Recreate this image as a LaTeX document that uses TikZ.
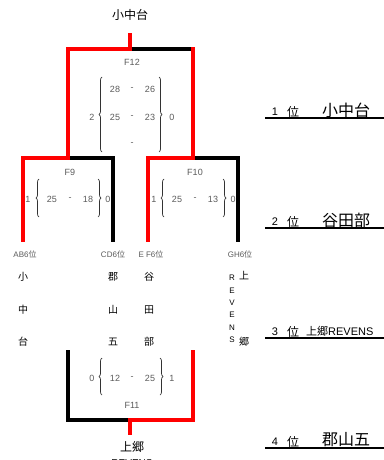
\documentclass[tikz,border=0pt]{standalone}
\usepackage{fontspec}
\setmainfont{Liberation Sans}
\newfontfamily\jpfont{Noto Sans CJK JP}
\usetikzlibrary{decorations.pathreplacing}
\definecolor{C0}{RGB}{255,0,0}
\definecolor{C1}{RGB}{90,90,90}

\begin{document}
\begin{tikzpicture}[x=1pt,y=-1pt,
  winline/.style={line width=3.5pt,color=C0,line cap=rect},
  loseline/.style={line width=3.5pt,color=black,line cap=rect},
  scorebrace/.style={decorate,decoration={brace,amplitude=3pt},line width=0.7pt,color=black!80},
  scorenum/.style={color=C1,font=\fontsize{9}{10}\selectfont},
  slotlabel/.style={color=C1,font=\fontsize{8}{9}\selectfont},
  teamchar/.style={font=\jpfont\fontsize{10}{11}\selectfont},
  rankline/.style={line width=1.8pt}]

  \useasboundingbox (0,0) rectangle (383,460);

  % Bracket corners.
  \coordinate (f12top) at (130,35);
  \coordinate (f12mid) at (130,49);
  \coordinate (f12l) at (68,49);
  \coordinate (f12r) at (193,49);
  \coordinate (f9mid) at (68,158);
  \coordinate (f9l) at (23,158);
  \coordinate (f9r) at (113,158);
  \coordinate (f10mid) at (193,158);
  \coordinate (f10l) at (148,158);
  \coordinate (f10r) at (238,158);
  \coordinate (ab) at (23,240);
  \coordinate (cd) at (113,240);
  \coordinate (ef) at (148,240);
  \coordinate (gh) at (238,240);
  \coordinate (f11l) at (68,352);
  \coordinate (f11r) at (193,352);
  \coordinate (f11lb) at (68,420);
  \coordinate (f11rb) at (193,420);
  \coordinate (f11mid) at (130,420);
  \coordinate (f11bot) at (130,433);

  % Losing sides.
  \draw[loseline] (f12mid) -- (f12r);
  \draw[loseline] (f9mid) -- (f9r) -- (cd);
  \draw[loseline] (f10mid) -- (f10r) -- (gh);
  \draw[loseline] (f11l) -- (f11lb) -- (f11mid);

  % Winning paths.
  \draw[winline] (f12top) -- (f12mid) -- (f12l) -- (f9mid);
  \draw[winline] (f12r) -- (f10mid);
  \draw[winline] (f9mid) -- (f9l) -- (ab);
  \draw[winline] (f10mid) -- (f10l) -- (ef);
  \draw[winline] (f11r) -- (f11rb) -- (f11mid) -- (f11bot);

  % Final F12.
  \node (champ) at (130,15) {\jpfont\fontsize{12}{13}\selectfont 小中台};
  \node[scorenum] (f12) at (132,62) {F12};
  \draw[scorebrace] (102,152) -- (102,77);
  \draw[scorebrace] (159,77) -- (159,152);
  \node[scorenum] at (92,117) {2};
  \node[scorenum] at (172,117) {0};
  \node[scorenum] at (115,89) {28};
  \node[scorenum] at (132,89) {-};
  \node[scorenum] at (150,89) {26};
  \node[scorenum] at (115,117) {25};
  \node[scorenum] at (132,117) {-};
  \node[scorenum] at (150,117) {23};
  \node[scorenum] at (132,144) {-};

  % Semi final F9.
  \node[scorenum] (f9) at (70,172) {F9};
  \draw[scorebrace] (39,217) -- (39,179);
  \draw[scorebrace] (98,179) -- (98,217);
  \node[scorenum] at (28,199) {1};
  \node[scorenum] at (52,199) {25};
  \node[scorenum] at (70,199) {-};
  \node[scorenum] at (88,199) {18};
  \node[scorenum] at (108,199) {0};

  % Semi final F10.
  \node[scorenum] (f10) at (195,172) {F10};
  \draw[scorebrace] (164,217) -- (164,179);
  \draw[scorebrace] (223,179) -- (223,217);
  \node[scorenum] at (154,199) {1};
  \node[scorenum] at (177,199) {25};
  \node[scorenum] at (195,199) {-};
  \node[scorenum] at (213,199) {13};
  \node[scorenum] at (233,199) {0};

  % Slots.
  \node[slotlabel] at (25,254) {AB6{\jpfont 位}};
  \node[slotlabel] at (113,254) {CD6{\jpfont 位}};
  \node[slotlabel] at (151,254) {E F6{\jpfont 位}};
  \node[slotlabel] at (240,254) {GH6{\jpfont 位}};

  % Team names.
  \foreach \ch [count=\i from 0] in {小,中,台}
    \node[teamchar] at (23,277+32.5*\i) {\ch};
  \foreach \ch [count=\i from 0] in {郡,山,五}
    \node[teamchar] at (113,277+32.5*\i) {\ch};
  \foreach \ch [count=\i from 0] in {谷,田,部}
    \node[teamchar] at (149,277+32.5*\i) {\ch};
  \foreach \ch [count=\i from 0] in {R,E,V,E,N,S}
    \node[font=\fontsize{8}{9}\selectfont] at (232,278+12.4*\i) {\ch};
  \node[teamchar] at (244,276) {上};
  \node[teamchar] at (244,342) {郷};

  % Third place F11.
  \draw[scorebrace] (102,395) -- (102,358);
  \draw[scorebrace] (160,358) -- (160,395);
  \node[scorenum] at (92,378) {0};
  \node[scorenum] at (115,378) {12};
  \node[scorenum] at (132,378) {-};
  \node[scorenum] at (150,378) {25};
  \node[scorenum] at (172,378) {1};
  \node[scorenum] (f11) at (132,405) {F11};
  \node (third) at (132,447) {\jpfont\fontsize{12}{13}\selectfont 上郷};
  \node[font=\fontsize{10}{11}\selectfont] at (132,463) {REVENS};

  % Final ranking.
  \foreach \n/\y in {1/112,2/222,3/332,4/442} {
    \node[font=\fontsize{11}{12}\selectfont] at (275,\y) {\n};
    \node[font=\jpfont\fontsize{12}{13}\selectfont] at (293,\y) {位};
    \draw[rankline] (265,\y+6) -- (385,\y+6);
  }
  \node[font=\jpfont\fontsize{16}{17}\selectfont] at (346,110) {小中台};
  \node[font=\jpfont\fontsize{16}{17}\selectfont] at (346,220) {谷田部};
  \node[font=\jpfont\fontsize{16}{17}\selectfont] at (346,440) {郡山五};
  \node[anchor=west,inner sep=0pt] at (306,331) {{\jpfont\fontsize{11}{12}\selectfont 上郷}{\fontsize{11}{12}\selectfont REVENS}};

\end{tikzpicture}
\end{document}
